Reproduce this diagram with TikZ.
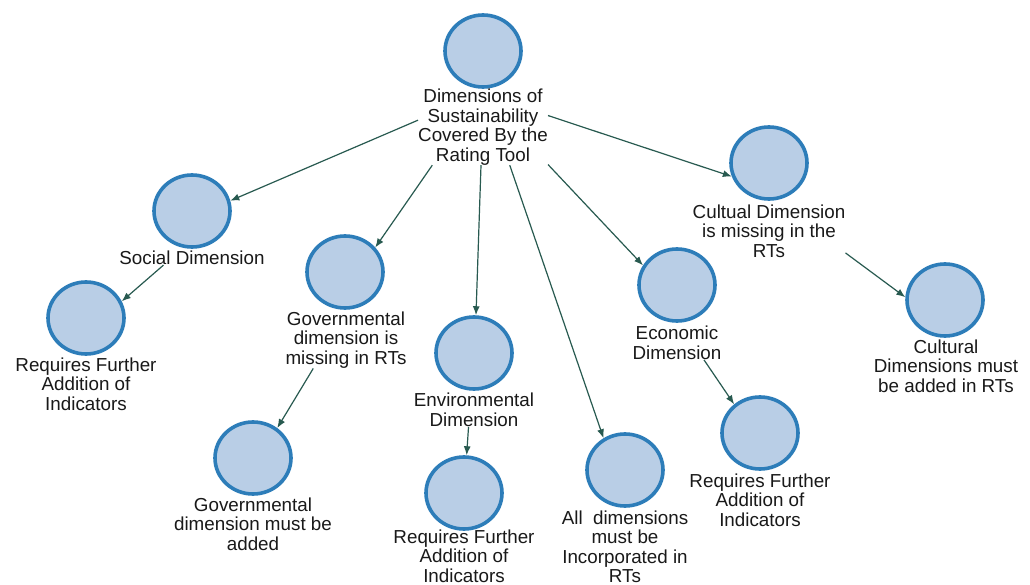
\documentclass[tikz,border=0pt]{standalone}
\usepackage{fontspec}
\setmainfont{Liberation Sans}
\usetikzlibrary{arrows.meta,shapes.geometric}
\definecolor{cfill}{RGB}{185,206,230}
\definecolor{cdraw}{RGB}{45,125,185}
\definecolor{carrow}{RGB}{40,90,80}
\definecolor{ctext}{RGB}{25,25,25}
\begin{document}
\begin{tikzpicture}[x=1pt,y=-1pt,
  concept/.style={ellipse, draw=cdraw, fill=cfill, line width=3.6pt, minimum width=76pt, minimum height=72pt, inner sep=0pt},
  lbl/.style={align=center, inner sep=0pt, text=ctext, font=\fontsize{18.8}{19.5}\selectfont},
  arr/.style={draw=carrow, line width=1.2pt, -{Latex[length=9pt,width=7pt]}}]
\fill[white] (0,0) rectangle (1030,585);
\useasboundingbox (0,0) rectangle (1030,585);
% concepts
\node[concept] (root) at (483,51) {};
\node[lbl] (rootlbl) at (483,127) {Dimensions of\\Sustainability\\Covered By the\\Rating Tool};
\node[concept] (soc) at (192,211) {};
\node[lbl] (soclbl) at (192,258) {Social Dimension};
\node[concept] (socr) at (86,318) {};
\node[lbl] (socrlbl) at (86,384) {Requires Further\\Addition of\\Indicators};
\node[concept] (gov) at (345,272) {};
\node[lbl] (govlbl) at (346,340) {Governmental\\dimension is\\missing in RTs};
\node[concept] (govr) at (253,458) {};
\node[lbl] (govrlbl) at (253,524) {Governmental\\dimension must be\\added};
\node[concept] (env) at (474,353) {};
\node[lbl] (envlbl) at (474,410) {Environmental\\Dimension};
\node[concept] (envr) at (464,493) {};
\node[lbl] (envrlbl) at (464,556) {Requires Further\\Addition of\\Indicators};
\node[concept] (all) at (625,470) {};
\node[lbl] (alllbl) at (625,547) {All\ \ dimensions\\must be\\Incorporated in\\RTs};
\node[concept] (econ) at (677,285) {};
\node[lbl] (econlbl) at (677,343) {Economic\\Dimension};
\node[concept] (econr) at (760,433) {};
\node[lbl] (econrlbl) at (760,500) {Requires Further\\Addition of\\Indicators};
\node[concept] (cul) at (769,163) {};
\node[lbl] (cullbl) at (769,231) {Cultual Dimension\\is missing in the\\RTs};
\node[concept] (culr) at (945,300) {};
\node[lbl] (culrlbl) at (946,366) {Cultural\\Dimensions must\\be added in RTs};
% connectors
\draw[arr] (rootlbl.174) -- (soc.15);
\draw[arr] (rootlbl.217) -- (gov.39);
\draw[arr] (rootlbl.267) -- (env.87);
\draw[arr] (rootlbl.305) -- (all.124);
\draw[arr] (rootlbl.330) -- (econ.150);
\draw[arr] (rootlbl.10) -- (cul.200);
\draw[arr] (soclbl.194) -- (socr.25);
\draw[arr] (govlbl.221) -- (govr.51);
\draw[arr] (envlbl.252) -- (envr.86);
\draw[arr] (econlbl.328) -- (econr.132);
\draw[arr] (cullbl.344) -- (culr.176);
\end{tikzpicture}
\end{document}
